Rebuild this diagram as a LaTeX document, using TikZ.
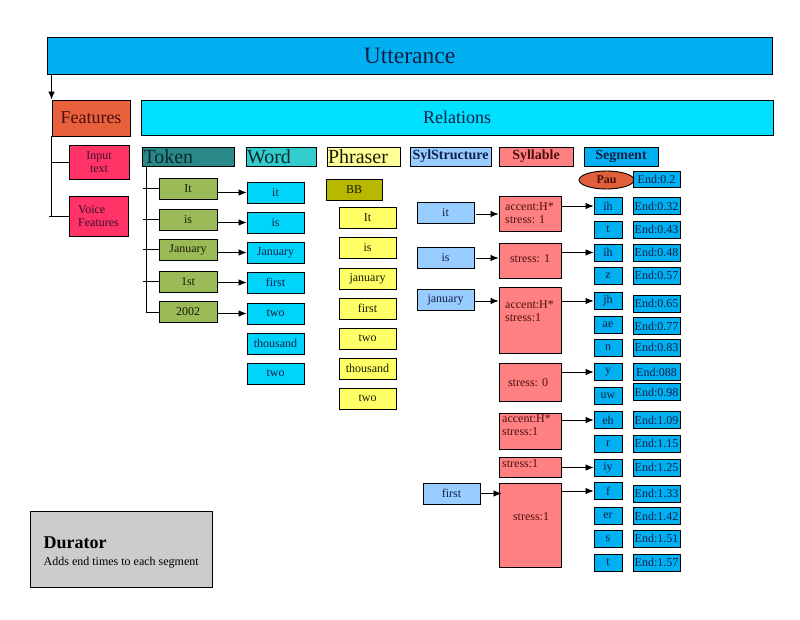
\documentclass[tikz,border=0pt]{standalone}
\usepackage{fontspec}
\setmainfont{Liberation Serif}
\usetikzlibrary{arrows.meta,shapes.geometric}

% fills
\definecolor{uttfill}{HTML}{00B0F0}
\definecolor{relfill}{HTML}{00E0FF}
\definecolor{featfill}{HTML}{E8603C}
\definecolor{inpfill}{HTML}{FF3366}
\definecolor{tokhfill}{HTML}{2A8888}
\definecolor{wrdhfill}{HTML}{33CCCC}
\definecolor{phrhfill}{HTML}{FFFF99}
\definecolor{ssfill}{HTML}{99CCFF}
\definecolor{sylfill}{HTML}{FF8080}
\definecolor{segfill}{HTML}{00B0F0}
\definecolor{tokfill}{HTML}{9BBB59}
\definecolor{wrdfill}{HTML}{00D4FA}
\definecolor{bbfill}{HTML}{B8B800}
\definecolor{phrfill}{HTML}{FFFF66}
\definecolor{paufill}{HTML}{E0603C}
\definecolor{durfill}{HTML}{CCCCCC}
% inks
\definecolor{navyink}{HTML}{102048}
\definecolor{tealink}{HTML}{0A2A30}
\definecolor{redink}{HTML}{4A1010}
\definecolor{plumink}{HTML}{3A1030}
\definecolor{oliveink}{HTML}{1A1A00}

\begin{document}
\begin{tikzpicture}[x=1pt,y=-1pt,
  small/.style={font=\fontsize{12}{13}\selectfont},
  box/.style={draw=black, line width=0.9pt, inner sep=0pt, small},
  hdr/.style={box, minimum height=19, inner xsep=1pt, align=left,
    font=\fontsize{20}{22}\selectfont, text=tealink},
  bhdr/.style={box, minimum height=19, font=\fontsize{14}{16}\selectfont\bfseries},
  tok/.style={box, fill=tokfill, minimum width=58, minimum height=21, text=oliveink},
  wrd/.style={box, fill=wrdfill, minimum width=57, minimum height=21, text=navyink},
  phr/.style={box, fill=phrfill, minimum width=57, minimum height=21, text=oliveink},
  ssb/.style={box, fill=ssfill, minimum width=57, minimum height=21, text=navyink},
  syl/.style={box, fill=sylfill, minimum width=62},
  syltxt/.style={small, inner sep=0pt, align=left, text=redink},
  seg/.style={box, fill=segfill, minimum width=28, minimum height=17, text=navyink},
  endb/.style={box, fill=segfill, minimum width=47, minimum height=17, text=navyink},
  ln/.style={line width=0.9pt},
  arr/.style={line width=0.8pt, -{Latex[length=8pt,width=6.5pt]}}
]
\useasboundingbox (0,0) rectangle (800,620);

% top level
\node[box, fill=uttfill, minimum width=725, minimum height=37,
  font=\fontsize{23.5}{26}\selectfont, text=navyink] (utt) at (409.5,55.5) {Utterance};
\node[box, fill=featfill, minimum width=78, minimum height=36,
  font=\fontsize{18}{20}\selectfont, text=redink] (feat) at (91,118) {Features};
\node[box, fill=relfill, minimum width=632, minimum height=35,
  font=\fontsize{18}{20}\selectfont, text=navyink] (rel) at (457,117.5) {Relations};

% features
\node[box, fill=inpfill, minimum width=60, minimum height=34, align=center,
  font=\fontsize{12}{13.7}\selectfont, text=plumink] (inp) at (99,162) {Input\\text};
\node[box, fill=inpfill, minimum width=59, minimum height=40, align=left,
  font=\fontsize{12}{13.7}\selectfont, text=plumink] (vf) at (98.5,216) {Voice\\Features};

% relation headers
\node[hdr, fill=tokhfill, minimum width=92, text width=90] (tokh) at (188.5,156.5) {Token};
\node[hdr, fill=wrdhfill, minimum width=70, text width=68] (wrdh) at (281,156.5) {Word};
\node[hdr, fill=phrhfill, minimum width=73, text width=71, text=oliveink] (phrh) at (363.5,156.5) {Phraser};
\node[bhdr, fill=ssfill, minimum width=81, text=navyink] (ssh) at (450.5,156.5) {SylStructure};
\node[bhdr, fill=sylfill, minimum width=74, text=redink] (sylh) at (536,156.5) {Syllable};
\node[bhdr, fill=segfill, minimum width=74, text=navyink] (segh) at (621,156.5) {Segment};

% tokens
\node[tok] (t1) at (188,188.5) {It};
\node[tok] (t2) at (188,219.5) {is};
\node[tok] (t3) at (188,249.5) {January};
\node[tok] (t4) at (188,281.5) {1st};
\node[tok] (t5) at (188,312) {2002};

% words
\node[wrd] (w1) at (275.5,192.5) {it};
\node[wrd] (w2) at (275.5,222.5) {is};
\node[wrd] (w3) at (275.5,252.5) {January};
\node[wrd] (w4) at (275.5,282.5) {first};
\node[wrd] (w5) at (275.5,313.5) {two};
\node[wrd] (w6) at (275.5,343.5) {thousand};
\node[wrd] (w7) at (275.5,373.5) {two};

% phrases
\node[box, fill=bbfill, minimum width=56, minimum height=21, text=oliveink] (bb) at (354,189.5) {BB};
\node[phr] (p1) at (367.5,217.5) {It};
\node[phr] (p2) at (367.5,247.5) {is};
\node[phr] (p3) at (367.5,278.5) {january};
\node[phr] (p4) at (367.5,308.5) {first};
\node[phr] (p5) at (367.5,338.5) {two};
\node[phr] (p6) at (367.5,368.5) {thousand};
\node[phr] (p7) at (367.5,398.5) {two};

% syllable structure
\node[ssb] (ss1) at (445.5,212.5) {it};
\node[ssb] (ss2) at (445.5,257.5) {is};
\node[ssb] (ss3) at (445.5,299.5) {january};
\node[ssb] (ss4) at (451.5,493.5) {first};

% syllables
\node[syl, minimum height=35] (s1) at (530,213.5) {};
\node[syl, minimum height=35] (s2) at (530,260.5) {};
\node[syl, minimum height=66] (s3) at (530,320) {};
\node[syl, minimum height=38] (s4) at (530,382) {};
\node[syl, minimum height=36] (s5) at (530,431) {};
\node[syl, minimum height=20] (s6) at (530,467) {};
\node[syl, minimum height=84] (s7) at (530,525) {};
\node[syltxt, anchor=north west] (s1t) at (505,202.5) {accent:H*\\stress: 1};
\node[syltxt] (s2t) at (530,259) {stress: 1};
\node[syltxt, anchor=north west] (s3t) at (505,300.5) {accent:H*\\stress:1};
\node[syltxt] (s4t) at (528,382.5) {stress: 0};
\node[syltxt, anchor=north west] (s5t) at (502,414.8) {accent:H*\\stress:1};
\node[syltxt, anchor=north west] (s6t) at (502,459.6) {stress:1};
\node[syltxt] (s7t) at (531,516.7) {stress:1};

% segments
\node[draw=black, line width=0.9pt, ellipse, fill=paufill, minimum width=55, minimum height=18,
  inner sep=0pt, font=\fontsize{12}{13}\selectfont\bfseries, text=redink] (pau) at (606.5,180) {Pau};
\node[endb, minimum height=16] (e0) at (656.5,179) {End:0.2};

\node[seg] (g1) at (608,206) {ih};
\node[seg] (g2) at (608,229.5) {t};
\node[seg] (g3) at (608,252.5) {ih};
\node[seg] (g4) at (608,276) {z};
\node[seg] (g5) at (608,301) {jh};
\node[seg] (g6) at (608,324.5) {ae};
\node[seg] (g7) at (608,347.5) {n};
\node[seg] (g8) at (608,372) {y};
\node[seg] (g9) at (608,396) {uw};
\node[seg] (g10) at (608,420) {eh};
\node[seg] (g11) at (608,443.5) {r};
\node[seg] (g12) at (608,467.5) {iy};
\node[seg] (g13) at (608,491) {f};
\node[seg] (g14) at (608,516) {er};
\node[seg] (g15) at (608,538.5) {s};
\node[seg] (g16) at (608,562.5) {t};

\node[endb] (e1) at (656.5,206) {End:0.32};
\node[endb] (e2) at (656.5,229.5) {End:0.43};
\node[endb] (e3) at (656.5,252.5) {End:0.48};
\node[endb] (e4) at (656.5,275.5) {End:0.57};
\node[endb] (e5) at (656.5,303.5) {End:0.65};
\node[endb] (e6) at (656.5,326) {End:0.77};
\node[endb] (e7) at (656.5,347.5) {End:0.83};
\node[endb] (e8) at (656.5,372) {End:088};
\node[endb] (e9) at (656.5,392) {End:0.98};
\node[endb] (e10) at (656.5,420) {End:1.09};
\node[endb] (e11) at (656.5,443.5) {End:1.15};
\node[endb] (e12) at (656.5,467.5) {End:1.25};
\node[endb] (e13) at (656.5,493.5) {End:1.33};
\node[endb] (e14) at (656.5,516) {End:1.42};
\node[endb] (e15) at (656.5,538.5) {End:1.51};
\node[endb] (e16) at (656.5,562.5) {End:1.57};

% durator
\node[box, fill=durfill, minimum width=182, minimum height=76] (dur) at (121.5,549) {};
\node[inner sep=0pt, anchor=north west, align=left, font=\fontsize{12}{17}\selectfont, text=black]
  (durt) at (43.5,537)
  {{\fontsize{18}{20}\selectfont\bfseries Durator}\\Adds end times to each segment};

% connectors: utterance to features
\draw[arr] (feat.north west |- utt.south) -- (feat.north west);
\coordinate (fl) at (49,0);
\draw[ln] (feat.south west) -- (feat.south west |- vf.west);
\draw[ln] (fl |- vf.west) -- (vf.west);
\draw[ln] (feat.south west |- inp.west) -- (inp.west);

% token bus
\coordinate (tkb) at (146,166);
\coordinate (tkl) at (143,0);
\draw[ln] (tkb) |- (t5.west);
\foreach \i in {1,...,4} \draw[ln] (tkl |- t\i.west) -- (t\i.west);

% token -> word
\foreach \i in {1,...,5}
  \draw[arr, shorten <=1pt] (w\i.west -| t\i.east) -- (w\i.west);

% sylstructure -> syllable
\draw[arr, shorten <=2pt] (ss1.east |- 0,214) -- (s1.west |- 0,214);
\draw[arr, shorten <=2pt] (ss2.east |- 0,258) -- (s2.west |- 0,258);
\draw[arr, shorten <=1pt] (ss3.east |- 0,301) -- (s3.west |- 0,301);
\draw[arr, shorten <=1pt, shorten >=-3pt] (ss4.east) -- (ss4.east -| s7.west);

% syllable -> segment
\draw[arr, shorten <=1pt] (g1.west -| s1.east) -- (g1.west);
\draw[arr, shorten <=1pt] (g3.west -| s2.east) -- (g3.west);
\draw[arr, shorten <=1pt] (g5.west -| s3.east) -- (g5.west);
\draw[arr, shorten <=1pt] (g8.west -| s4.east) -- (g8.west);
\draw[arr, shorten <=1pt] (g10.west -| s5.east) -- (g10.west);
\draw[arr, shorten <=1pt] (g12.west -| s6.east) -- (g12.west);
\draw[arr, shorten <=1pt] (g13.west -| s7.east) -- (g13.west);
\end{tikzpicture}
\end{document}
